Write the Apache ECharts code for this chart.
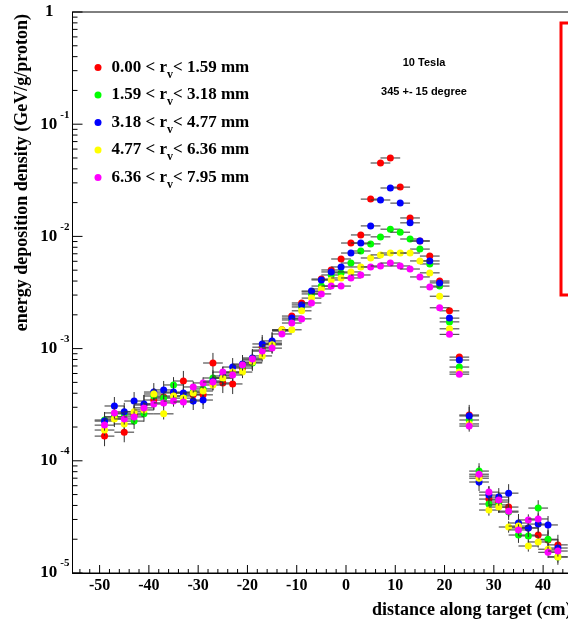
<!DOCTYPE html>
<html>
<head>
<meta charset="utf-8">
<script src="https://cdn.jsdelivr.net/npm/echarts@6/dist/echarts.min.js"></script>
<style>
  html, body { margin: 0; padding: 0; background: #fff; }
  #chart { width: 568px; height: 627px; }
</style>
</head>
<body>
<div id="chart"></div>
<script>
// Bin centres along the target (cm)
const positions = [-49, -47, -45, -43, -41, -39, -37, -35, -33, -31, -29, -27, -25, -23, -21, -19, -17, -15,
  -13, -11, -9, -7, -5, -3, -1, 1, 3, 5, 7, 9, 11, 13, 15, 17, 19, 21, 23, 25, 27, 29, 31, 33, 35, 37, 39, 41, 43];

// Energy deposition density (GeV/g/proton) per radial shell
const shell1 = [1.66e-4, 2.46e-4, 1.80e-4, 2.56e-4, 3.14e-4, 3.48e-4, 3.70e-4, 4.02e-4, 5.14e-4, 3.87e-4, 3.87e-4,
  7.44e-4, 4.94e-4, 4.84e-4, 6.71e-4, 7.91e-4, 1.03e-3, 1.12e-3, 1.47e-3, 1.95e-3, 2.55e-3, 3.20e-3, 4.17e-3,
  5.02e-3, 6.29e-3, 8.73e-3, 1.03e-2, 2.15e-2, 4.51e-2, 5.0e-2, 2.75e-2, 1.46e-2, 9.1e-3, 6.68e-3, 4.0e-3,
  2.17e-3, 8.4e-4, 2.56e-4, 7.3e-5, 4.56e-5, 4.29e-5, 3.87e-5, 2.52e-5, 2.52e-5, 2.18e-5, 1.97e-5, 1.78e-5];
const shell2 = [2.31e-4, 2.46e-4, 2.62e-4, 2.26e-4, 2.62e-4, 3.78e-4, 3.62e-4, 4.74e-4, 3.78e-4, 4.10e-4, 4.37e-4,
  5.47e-4, 5.47e-4, 6.05e-4, 6.99e-4, 7.44e-4, 9.7e-4, 1.10e-3, 1.44e-3, 1.80e-3, 2.35e-3, 3.07e-3, 3.61e-3,
  4.53e-3, 4.73e-3, 5.79e-3, 7.41e-3, 8.57e-3, 9.9e-3, 1.16e-2, 1.09e-2, 9.48e-3, 7.71e-3, 5.68e-3, 3.61e-3,
  1.73e-3, 6.85e-4, 2.31e-4, 8.1e-5, 4.12e-5, 4.04e-5, 3.49e-5, 2.18e-5, 2.14e-5, 3.79e-5, 2.0e-5, 1.39e-5];
const shell3 = [2.26e-4, 3.08e-4, 2.73e-4, 3.41e-4, 3.21e-4, 4.10e-4, 4.28e-4, 4.10e-4, 4.02e-4, 3.41e-4, 3.48e-4,
  5.14e-4, 5.70e-4, 6.85e-4, 7.29e-4, 8.25e-4, 1.10e-3, 1.17e-3, 1.44e-3, 1.87e-3, 2.45e-3, 3.26e-3, 4.09e-3,
  4.82e-3, 5.34e-3, 7.11e-3, 8.73e-3, 1.24e-2, 2.11e-2, 2.70e-2, 1.98e-2, 1.32e-2, 9.1e-3, 6.04e-3, 3.85e-3,
  1.87e-3, 7.91e-4, 2.51e-4, 6.47e-5, 4.95e-5, 4.75e-5, 5.15e-5, 2.79e-5, 2.52e-5, 2.73e-5, 2.68e-5, 1.67e-5];
const shell4 = [1.88e-4, 2.36e-4, 2.13e-4, 2.73e-4, 2.84e-4, 3.94e-4, 2.62e-4, 3.78e-4, 3.62e-4, 4.02e-4, 4.19e-4,
  4.74e-4, 5.47e-4, 6.18e-4, 6.18e-4, 7.58e-4, 8.6e-4, 1.08e-3, 1.47e-3, 1.47e-3, 2.17e-3, 2.82e-3, 3.40e-3,
  4.09e-3, 4.26e-3, 4.82e-3, 5.34e-3, 6.42e-3, 6.84e-3, 7.11e-3, 7.11e-3, 7.11e-3, 6.04e-3, 4.73e-3, 2.93e-3,
  1.50e-3, 6.18e-4, 2.13e-4, 7.0e-5, 3.64e-5, 3.87e-5, 2.57e-5, 2.62e-5, 1.74e-5, 1.89e-5, 1.63e-5, 1.39e-5];
const shell5 = [2.08e-4, 2.67e-4, 2.36e-4, 2.46e-4, 2.96e-4, 3.21e-4, 3.28e-4, 3.41e-4, 3.34e-4, 4.55e-4, 4.94e-4,
  5.04e-4, 6.18e-4, 5.82e-4, 7.15e-4, 8.07e-4, 9.5e-4, 1.01e-3, 1.35e-3, 1.69e-3, 1.84e-3, 2.55e-3, 3.07e-3,
  3.61e-3, 3.61e-3, 4.26e-3, 4.53e-3, 5.34e-3, 5.45e-3, 5.79e-3, 5.45e-3, 5.12e-3, 4.35e-3, 3.54e-3, 2.31e-3,
  1.34e-3, 5.92e-4, 2.04e-4, 7.6e-5, 5.26e-5, 4.47e-5, 3.56e-5, 2.42e-5, 2.97e-5, 3.03e-5, 1.53e-5, 1.57e-5];

// Shell edges (mm) and marker colours
const shellLow = ['0.00', '1.59', '3.18', '4.77', '6.36'];
const shellHigh = ['1.59', '3.18', '4.77', '6.36', '7.95'];
const shellColors = ['#ff0000', '#00ff00', '#0000ff', '#ffff00', '#ff00ff'];
const shellValues = [shell1, shell2, shell3, shell4, shell5];

// Uncertainties: half width of a bin (cm) and vertical error in decades
const xHalfWidth = 2;
const tailErrDex = [0.09, 0.07, 0.08, 0.05, 0.05];
const coreErrDex = 0.02;
const coreRange = [-14, 24];

// Axis ranges and tick values
const X_MIN = -55.5, X_MAX = 55.5;
const Y_MIN = 1e-5, Y_MAX = 1;
const xMajorTicks = [-50, -40, -30, -20, -10, 0, 10, 20, 30, 40, 50];
const xMinorStep = 2;
const yDecades = [-5, -4, -3, -2, -1, 0];

const SERIF = "'Liberation Serif', 'Times New Roman', serif";
const SANS = "'Liberation Sans', Arial, sans-serif";

const names = shellLow.map((lo, i) => lo + ' < rv< ' + shellHigh[i] + ' mm');

function pointItem(params, api) {
  const x = api.value(0), v = api.value(1), e = api.value(2);
  const c = api.coord([x, v]);
  const l = api.coord([x - xHalfWidth, v]);
  const r = api.coord([x + xHalfWidth, v]);
  const up = api.coord([x, v * Math.pow(10, e)]);
  const dn = api.coord([x, v / Math.pow(10, e)]);
  const barStyle = { stroke: '#333333', lineWidth: 1 };
  return {
    type: 'group',
    children: [
      { type: 'line', shape: { x1: l[0], y1: c[1], x2: r[0], y2: c[1] }, style: barStyle },
      { type: 'line', shape: { x1: c[0], y1: up[1], x2: c[0], y2: dn[1] }, style: barStyle },
      { type: 'circle', shape: { cx: c[0], cy: c[1], r: 3.5 }, style: { fill: api.visual('color') } }
    ]
  };
}

// Tick marks drawn inward from the axes: [x, y, axis(0=y,1=x), length]
const tickData = [];
yDecades.forEach(d => {
  tickData.push([X_MIN, Math.pow(10, d), 0, 10]);
  if (d < 0) for (let k = 2; k <= 9; k++) tickData.push([X_MIN, k * Math.pow(10, d), 0, 5]);
});
for (let x = -54; x <= 54; x += xMinorStep) {
  tickData.push([x, Y_MIN, 1, xMajorTicks.indexOf(x) >= 0 ? 8 : 4]);
}

function tickItem(params, api) {
  const p = api.coord([api.value(0), api.value(1)]);
  const len = api.value(3);
  const shape = api.value(2) === 0
    ? { x1: p[0], y1: p[1], x2: p[0] + len, y2: p[1] }
    : { x1: p[0], y1: p[1], x2: p[0], y2: p[1] - len };
  return { type: 'line', shape: shape, style: { stroke: '#000', lineWidth: 1 } };
}

const series = shellValues.map((vals, s) => ({
  name: names[s],
  type: 'custom',
  renderItem: pointItem,
  itemStyle: { color: shellColors[s] },
  encode: { x: 0, y: 1 },
  data: positions.map((x, i) => [x, vals[i],
    (x > coreRange[0] && x < coreRange[1]) ? coreErrDex : tailErrDex[s]]),
  z: 3 + s
}));
series.push({
  name: 'ticks', type: 'custom', renderItem: tickItem, encode: { x: 0, y: 1 },
  data: tickData, silent: true, z: 10
});

const chart = echarts.init(document.getElementById('chart'), null, { renderer: 'canvas' });
chart.setOption({
  animation: false,
  backgroundColor: '#ffffff',
  grid: {
    left: 72.5, top: 12, width: 547, bottom: 54, outerBoundsMode: 'none', containLabel: false,
    show: true, borderColor: '#000', borderWidth: 1
  },
  xAxis: {
    type: 'value', min: X_MIN, max: X_MAX, splitNumber: 11,
    axisLine: { show: true, onZero: false, lineStyle: { color: '#000', width: 1 } },
    axisTick: { show: false }, splitLine: { show: false },
    axisLabel: {
      showMinLabel: false, showMaxLabel: false, margin: 5,
      color: '#000', fontFamily: SERIF, fontWeight: 'bold', fontSize: 16
    }
  },
  yAxis: {
    type: 'log', logBase: 10, min: Y_MIN, max: Y_MAX, splitNumber: 5,
    axisLine: { show: true, onZero: false, lineStyle: { color: '#000', width: 1 } },
    axisTick: { show: false }, splitLine: { show: false },
    axisLabel: {
      margin: 3, color: '#000',
      formatter: v => {
        const d = Math.round(Math.log10(v));
        return d === 0 ? '{one|1}' : '{b|10}{s|' + d + '}';
      },
      rich: {
        one: { fontFamily: SERIF, fontWeight: 'bold', fontSize: 17, lineHeight: 30, padding: [0, 16, 0, 0], color: '#000' },
        b: { fontFamily: SERIF, fontWeight: 'bold', fontSize: 17, lineHeight: 30, color: '#000' },
        s: { fontFamily: SERIF, fontWeight: 'bold', fontSize: 11, lineHeight: 10, verticalAlign: 'top', padding: [0, 0, 0, 3], color: '#000' }
      }
    }
  },
  legend: {
    data: names, orient: 'vertical', left: 94.5, top: 59, padding: 0, itemGap: 6,
    icon: 'circle', itemWidth: 7, itemHeight: 7, selectedMode: false,
    formatter: name => {
      const i = names.indexOf(name);
      return '{t|' + shellLow[i] + ' < r}{v|v}{t|< ' + shellHigh[i] + ' mm}';
    },
    textStyle: {
      padding: [0, 0, 0, 5],
      rich: {
        t: { fontFamily: SERIF, fontWeight: 'bold', fontSize: 17, lineHeight: 26, color: '#000' },
        v: { fontFamily: SERIF, fontWeight: 'bold', fontSize: 12, lineHeight: 14, verticalAlign: 'bottom', color: '#000' }
      }
    }
  },
  graphic: [
    { type: 'rect', silent: true, shape: { x: 561, y: 23, width: 40, height: 272 },
      style: { fill: 'none', stroke: '#ff0000', lineWidth: 3 } },
    { type: 'text', x: 424, y: 63, silent: true,
      style: { text: '10 Tesla', font: 'bold 11px ' + SANS, fill: '#000', textAlign: 'center', textVerticalAlign: 'middle', align: 'center', verticalAlign: 'middle' } },
    { type: 'text', x: 424, y: 92, silent: true,
      style: { text: '345 +- 15 degree', font: 'bold 11px ' + SANS, fill: '#000', textAlign: 'center', textVerticalAlign: 'middle', align: 'center', verticalAlign: 'middle' } },
    { type: 'text', x: 22, y: 14, rotation: Math.PI / 2, silent: true,
      style: { text: 'energy deposition density (GeV/g/proton)', font: 'bold 18px ' + SERIF, fill: '#000', textAlign: 'right', textVerticalAlign: 'middle', align: 'right', verticalAlign: 'middle' } },
    { type: 'text', x: 372, y: 610, silent: true,
      style: { text: 'distance along target (cm)', font: 'bold 18px ' + SERIF, fill: '#000', textAlign: 'left', textVerticalAlign: 'middle', align: 'left', verticalAlign: 'middle' } }
  ],
  series: series
});
</script>
</body>
</html>
